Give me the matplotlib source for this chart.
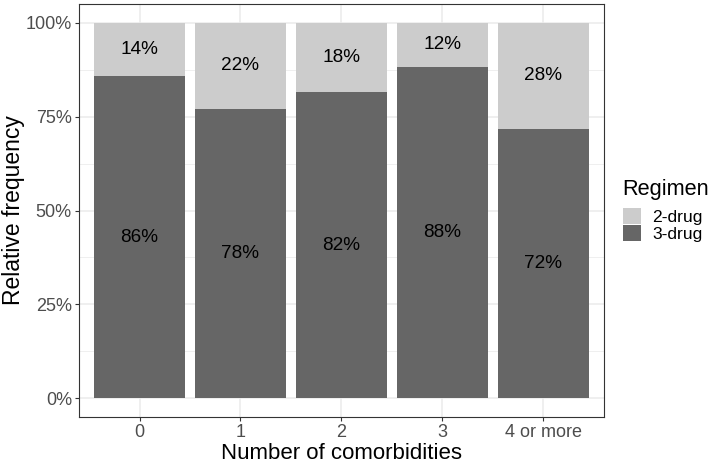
import matplotlib
matplotlib.use("Agg")
import matplotlib.pyplot as plt
from matplotlib.patches import Patch

plt.rcParams['font.family'] = ['Liberation Sans', 'DejaVu Sans']

# Dados
categorias = ["0", "1", "2", "3", "4 or more"]
tres_drogas = [0.858, 0.771, 0.815, 0.883, 0.717]
duas_drogas = [1 - v for v in tres_drogas]
rotulos_tres = ["86%", "78%", "82%", "88%", "72%"]
rotulos_duas = ["14%", "22%", "18%", "12%", "28%"]
y_ticks = [0, 0.25, 0.5, 0.75, 1.0]
y_tick_labels = ["0%", "25%", "50%", "75%", "100%"]

cor_clara = "#CCCCCC"
cor_escura = "#666666"

fig = plt.figure(figsize=(7.14, 4.65), dpi=100)
ax = fig.add_axes([0.1106, 0.1032, 0.8455 - 0.1106, 0.9914 - 0.1032])

x = list(range(len(categorias)))

# grade estilo theme_bw
for yy in [0.125, 0.375, 0.625, 0.875]:
    ax.axhline(yy, color="#EBEBEB", lw=0.55, zorder=0)
for yy in y_ticks:
    ax.axhline(yy, color="#EBEBEB", lw=1.1, zorder=0)
for xx in x:
    ax.axvline(xx, color="#EBEBEB", lw=1.1, zorder=0)

ax.bar(x, tres_drogas, width=0.9, color=cor_escura, zorder=2)
ax.bar(x, duas_drogas, width=0.9, bottom=tres_drogas, color=cor_clara, zorder=2)

for i in x:
    ax.text(i, tres_drogas[i] / 2, rotulos_tres[i], ha='center', va='center',
            fontsize=13.7, color='black', zorder=3)
    ax.text(i, tres_drogas[i] + duas_drogas[i] / 2, rotulos_duas[i], ha='center',
            va='center', fontsize=13.7, color='black', zorder=3)

ax.set_xlim(-0.6, 4.6)
ax.set_ylim(-0.05, 1.05)
ax.set_xticks(x)
ax.set_xticklabels(categorias)
ax.set_yticks(y_ticks)
ax.set_yticklabels(y_tick_labels)
ax.tick_params(axis='both', labelsize=13, labelcolor="#4D4D4D", color="#333333",
               length=2.9, width=0.8, pad=2.2)

for s in ax.spines.values():
    s.set_color("#333333")
    s.set_linewidth(0.8)

ax.set_xlabel("Number of comorbidities", fontsize=16)
ax.set_ylabel("Relative frequency", fontsize=16.5)
ax.xaxis.set_label_coords(0.5, -0.062)
ax.yaxis.set_label_coords(-0.103, 0.5)

# Legenda: título separado para controlar o espaçamento
fig.text(622 / 714, 1 - 195 / 465, "Regimen", fontsize=15.7, ha='left',
         va='baseline')
handles = [Patch(facecolor=cor_clara, label="2-drug"),
           Patch(facecolor=cor_escura, label="3-drug")]
leg = fig.legend(handles=handles, loc='upper left',
                 bbox_to_anchor=(623 / 714, 1 - 208 / 465), frameon=False,
                 fontsize=12.6, handlelength=1.0, handleheight=1.05,
                 labelspacing=0.0, handletextpad=0.68,
                 borderpad=0, borderaxespad=0)

fig.savefig("out.png", dpi=100)
